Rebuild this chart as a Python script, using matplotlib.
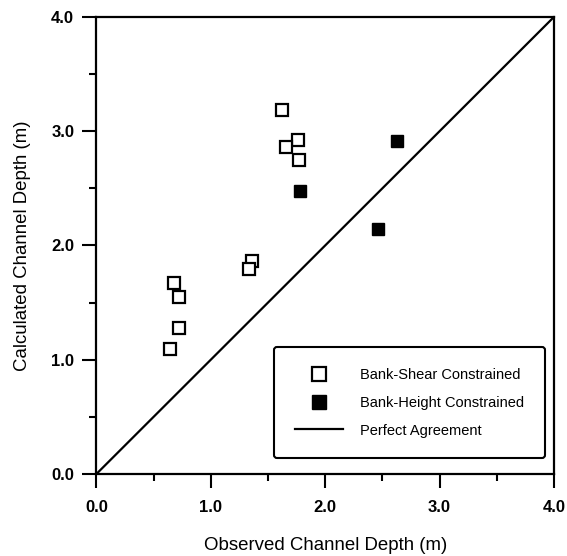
import matplotlib.pyplot as plt
from matplotlib.ticker import MultipleLocator

plt.rcParams['font.family'] = ['Liberation Sans', 'DejaVu Sans']

# bank-shear constrained (open squares)
shear_obs = [1.62, 1.76, 1.66, 1.77, 1.36, 1.33, 0.68, 0.72, 0.72, 0.64]
shear_calc = [3.19, 2.92, 2.86, 2.75, 1.86, 1.79, 1.67, 1.55, 1.28, 1.09]

# bank-height constrained (filled squares)
height_obs = [1.78, 2.46, 2.63]
height_calc = [2.48, 2.14, 2.91]

line_range = [0.0, 4.0]
ticks = [0.0, 1.0, 2.0, 3.0, 4.0]

fig = plt.figure(figsize=(5.67, 5.56), dpi=100)
ax = fig.add_axes([0.170, 0.1475, 0.807, 0.822])

ax.plot(shear_obs, shear_calc, 's', ms=8, mfc='white', mec='black', mew=1.6,
        linestyle='none', label='Bank-Shear Constrained')
ax.plot(height_obs, height_calc, 's', ms=8, mfc='black', mec='black',
        linestyle='none', label='Bank-Height Constrained')
ax.plot(line_range, line_range, '-', color='black', lw=1.6, label='Perfect Agreement')

ax.set_xlim(0, 4)
ax.set_ylim(0, 4)
ax.set_xticks(ticks)
ax.set_yticks(ticks)
ax.set_xticklabels([f'{t:.1f}' for t in ticks], fontweight='bold')
ax.set_yticklabels([f'{t:.1f}' for t in ticks], fontweight='bold')
ax.xaxis.set_minor_locator(MultipleLocator(0.5))
ax.yaxis.set_minor_locator(MultipleLocator(0.5))
ax.tick_params(which='major', direction='out', length=10, width=1.5, labelsize=12)
ax.tick_params(which='minor', direction='out', length=5, width=1.5)
ax.tick_params(axis='x', which='major', pad=9)
ax.tick_params(axis='y', which='major', pad=6)
for s in ax.spines.values():
    s.set_linewidth(1.6)

ax.set_xlabel('Observed Channel Depth (m)', fontsize=13.4)
ax.set_ylabel('Calculated Channel Depth (m)', fontsize=13.4)
ax.xaxis.set_label_coords(0.5, -0.138)
ax.yaxis.set_label_coords(-0.143, 0.5)

leg = ax.legend(loc='lower right', bbox_to_anchor=(0.98, 0.035), fontsize=10.5,
                fancybox=True, framealpha=1, edgecolor='black', borderpad=1.4,
                labelspacing=0.95, handlelength=3.3, handletextpad=1.2,
                borderaxespad=0, markerscale=1.25)
leg.get_frame().set_linewidth(1.5)

plt.savefig('out.png', dpi=100)
